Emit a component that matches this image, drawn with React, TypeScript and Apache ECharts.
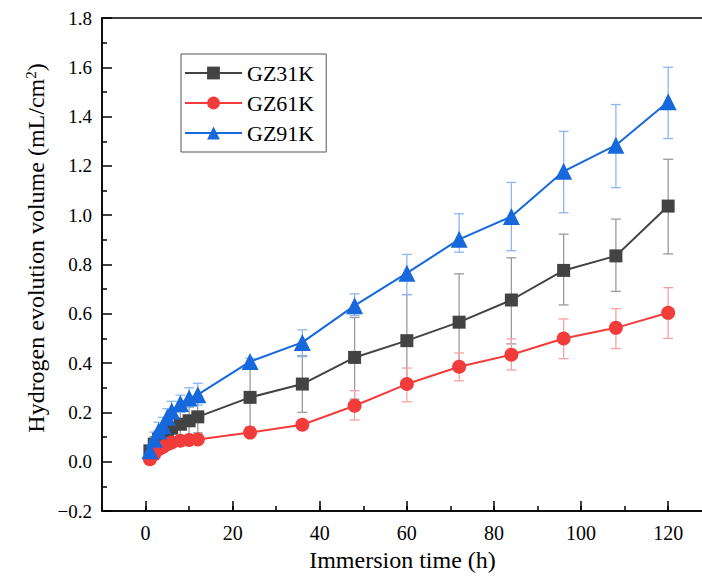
import React, { useEffect, useRef, useState } from "react";
import * as echarts from "echarts";

const timeHours = [1, 2, 3, 4, 5, 6, 8, 10, 12, 24, 36, 48, 60, 72, 84, 96, 108, 120];

const gz31k = [0.044, 0.071, 0.091, 0.108, 0.125, 0.136, 0.152, 0.166, 0.182, 0.261, 0.315, 0.423, 0.491, 0.566, 0.656, 0.776, 0.835, 1.037];
const gz31kHigh = [0.064, 0.101, 0.126, 0.148, 0.17, 0.186, 0.207, 0.226, 0.247, 0.38, 0.43, 0.585, 0.678, 0.762, 0.827, 0.923, 0.984, 1.227];
const gz31kLow = [0.024, 0.041, 0.056, 0.068, 0.08, 0.086, 0.097, 0.106, 0.117, 0.14, 0.2, 0.254, 0.3, 0.376, 0.478, 0.636, 0.691, 0.843];

const gz61k = [0.01, 0.03, 0.051, 0.06, 0.071, 0.078, 0.085, 0.088, 0.09, 0.118, 0.15, 0.227, 0.315, 0.385, 0.434, 0.5, 0.543, 0.604];
const gz61kHigh = [0.02, 0.045, 0.065, 0.075, 0.085, 0.09, 0.1, 0.1, 0.105, 0.13, 0.165, 0.288, 0.38, 0.441, 0.498, 0.579, 0.621, 0.706];
const gz61kLow = [0.0, 0.015, 0.037, 0.045, 0.057, 0.066, 0.07, 0.076, 0.075, 0.106, 0.135, 0.169, 0.243, 0.328, 0.372, 0.418, 0.459, 0.5];

const gz91k = [0.044, 0.091, 0.125, 0.146, 0.18, 0.206, 0.236, 0.258, 0.272, 0.406, 0.484, 0.633, 0.765, 0.902, 0.995, 1.178, 1.284, 1.46];
const gz91kHigh = [0.06, 0.12, 0.16, 0.18, 0.215, 0.245, 0.27, 0.3, 0.318, 0.42, 0.535, 0.681, 0.841, 1.006, 1.133, 1.34, 1.449, 1.6];
const gz91kLow = [0.03, 0.065, 0.09, 0.11, 0.145, 0.17, 0.2, 0.22, 0.23, 0.39, 0.426, 0.593, 0.678, 0.85, 0.856, 1.01, 1.112, 1.311];

const seriesNames = ["GZ31K", "GZ61K", "GZ91K"];
const lineColors = ["#434343", "#f23c3c", "#1668dc"];
const errColors = ["#9a9a9a", "#f6a2a2", "#8db6ef"];
const symbols = ["rect", "circle", "triangle"];
const symbolSizes = [13, 14, 17];

const xTitle = "Immersion time (h)";
const yTitleMain = "Hydrogen evolution volume (mL/cm";

const FONT = "Liberation Serif";

export default function App() {
  const ref = useRef<HTMLDivElement>(null);
  const [tick, setTick] = useState(0);
  useEffect(() => {
    if (!ref.current) return;
    const chart = echarts.init(ref.current, null, { renderer: "svg" });
    const values = [gz31k, gz61k, gz91k];
    const highs = [gz31kHigh, gz61kHigh, gz91kHigh];
    const lows = [gz31kLow, gz61kLow, gz91kLow];

    const errSeries = values.map((_, si) => ({
      type: "custom",
      name: seriesNames[si] + " error",
      xAxisIndex: 0,
      yAxisIndex: 0,
      z: 1,
      silent: true,
      data: timeHours.map((t, i) => [t, lows[si][i], highs[si][i]]),
      encode: { x: 0, y: [1, 2] },
      renderItem: (params: any, api: any) => {
        const x = api.value(0);
        const pHi = api.coord([x, api.value(2)]);
        const pLo = api.coord([x, api.value(1)]);
        const w = 5;
        const style = { stroke: errColors[si], lineWidth: 1.3, fill: "none" };
        return {
          type: "group",
          children: [
            { type: "line", shape: { x1: pHi[0], y1: pHi[1], x2: pLo[0], y2: pLo[1] }, style },
            { type: "line", shape: { x1: pHi[0] - w, y1: pHi[1], x2: pHi[0] + w, y2: pHi[1] }, style },
            { type: "line", shape: { x1: pLo[0] - w, y1: pLo[1], x2: pLo[0] + w, y2: pLo[1] }, style },
          ],
        };
      },
    }));

    const lineSeries = values.map((vals, si) => ({
      type: "line",
      name: seriesNames[si],
      xAxisIndex: 0,
      yAxisIndex: 0,
      z: 3,
      data: timeHours.map((t, i) => [t, vals[i]]),
      symbol: symbols[si],
      symbolSize: symbolSizes[si],
      showAllSymbol: true,
      lineStyle: { color: lineColors[si], width: 2 },
      itemStyle: { color: lineColors[si] },
    }));

    const option = {
      animation: false,
      backgroundColor: "#ffffff",
      textStyle: { fontFamily: FONT, color: "#000" },
      grid: {
        left: 102,
        top: 18,
        width: 601,
        bottom: 66,
        show: true,
        borderColor: "#000",
        borderWidth: 1.5,
        backgroundColor: "transparent",
        containLabel: false,
        outerBoundsMode: "none",
      },
      legend: {
        data: seriesNames,
        orient: "vertical",
        left: 181,
        top: 54,
        itemWidth: 57,
        itemHeight: 16,
        itemGap: 8,
        padding: [8, 12, 8, 3],
        borderColor: "#555",
        borderWidth: 1,
        textStyle: { fontFamily: FONT, fontSize: 22, color: "#000" },
      },
      xAxis: [
        {
          type: "value",
          min: -10,
          max: 128,
          splitNumber: 7,
          position: "bottom",
          name: xTitle,
          nameLocation: "middle",
          nameGap: 28,
          nameTextStyle: { fontFamily: FONT, fontSize: 24, color: "#000" },
          axisLine: { show: true, onZero: false, lineStyle: { color: "#000", width: 1.5 } },
          axisTick: { show: true, inside: true, length: 10, lineStyle: { color: "#000", width: 1.5 } },
          axisLabel: {
            show: true,
            margin: 12,
            showMinLabel: false,
            showMaxLabel: false,
            fontFamily: FONT,
            fontSize: 20,
            color: "#000",
            formatter: (v: number) => (v >= 0 && v <= 120 && v % 20 === 0 ? String(v) : ""),
          },
          splitLine: { show: false },
        },
        {
          type: "value",
          min: -10,
          max: 128,
          interval: 10,
          position: "bottom",
          axisLine: { show: false, onZero: false },
          axisTick: { show: true, inside: true, length: 5, lineStyle: { color: "#000", width: 1.5 } },
          axisLabel: { show: false },
          splitLine: { show: false },
        },
      ],
      yAxis: [
        {
          type: "value",
          min: -0.2,
          max: 1.8,
          interval: 0.2,
          position: "left",
          axisLine: { show: true, onZero: false, lineStyle: { color: "#000", width: 1.5 } },
          axisTick: { show: true, inside: true, length: 10, lineStyle: { color: "#000", width: 1.5 } },
          minorTick: { show: true, splitNumber: 2, length: 5, lineStyle: { color: "#000", width: 1.5 } },
          axisLabel: {
            margin: 10,
            fontFamily: FONT,
            fontSize: 19,
            color: "#000",
            formatter: (v: number) => (v < 0 ? "\u2212" + Math.abs(v).toFixed(1) : v.toFixed(1)),
          },
          splitLine: { show: false },
        },
      ],
      graphic: [
        {
          type: "text",
          x: 36,
          y: 248,
          rotation: Math.PI / 2,
          style: {
            text: "{a|" + yTitleMain + "}{b|2}{a|)}",
            align: "center",
            verticalAlign: "middle",
            rich: {
              a: { fontFamily: FONT, fontSize: 24, color: "#000" },
              b: { fontFamily: FONT, fontSize: 15, color: "#000", verticalAlign: "top", padding: [0, 0, 10, 0] },
            },
          },
        },
      ],
      series: [...errSeries, ...lineSeries],
    };
    chart.setOption(option as any);
    let alive = true;
    const refresh = () => {
      if (!alive) return;
      chart.setOption(option as any, true);
      setTick((t) => t + 1);
    };
    const fontsApi = (document as any).fonts;
    if (fontsApi && fontsApi.load) {
      Promise.all([
        fontsApi.load("19px 'Liberation Serif'"),
        fontsApi.load("22px 'Liberation Serif'"),
      ]).then(refresh, refresh);
    }
    const timer = setTimeout(refresh, 60);
    return () => {
      alive = false;
      clearTimeout(timer);
      chart.dispose();
    };
  }, []);
  return (
    <div data-refresh={tick}>
      <div ref={ref} style={{ position: "fixed", left: 0, top: 0, width: 702, height: 577 }} />
    </div>
  );
}
